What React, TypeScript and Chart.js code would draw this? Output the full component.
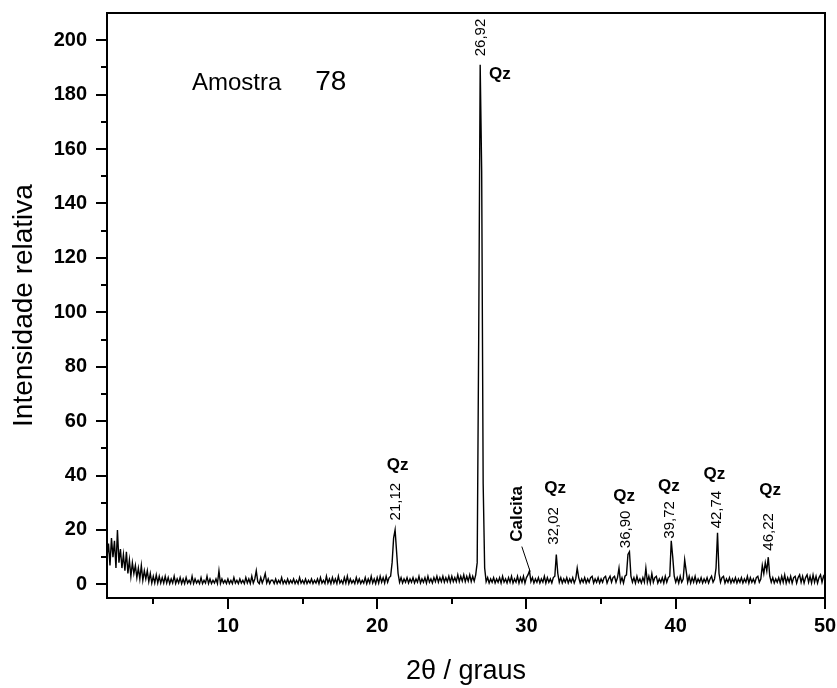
import React, { useEffect, useRef } from "react";
import { Chart, registerables } from "chart.js";

Chart.register(...registerables);

// 2θ grid: first angle and step (degrees)
const thetaStart = 1.9;
const thetaStep = 0.1;

// Relative intensity, one row per degree
const intensity: number[] = [
  10,
  15, 7, 17, 10, 16, 6, 20, 8, 13, 6,
  11, 5, 12, 4, 9, 3, 8, 4, 7, 2.5,
  6, 2, 7, 1.5, 5, 2, 5, 1, 4, 0.5,
  3, 0.5, 3.5, 0.5, 3, 0.5, 2.5, 0.5, 3, 0.5,
  2.5, 0.3, 2, 0.5, 3, 0.3, 2, 0.5, 2.5, 0.3,
  2, 0.3, 2.5, 0.5, 1.5, 0.3, 3, 0.3, 2, 0.5,
  1.5, 0.3, 2.5, 0.3, 1.5, 0.5, 3, 0.3, 2, 0.3,
  1.5, 0.5, 2, 0.3, 5, 0.3, 2, 0.5, 1.5, 0.3,
  2, 0.3, 1.5, 0.3, 2.5, 0.5, 1.5, 0.3, 2, 0.5,
  1.5, 0.3, 2.5, 0.5, 2, 0.3, 3, 0.5, 2, 5,
  1, 0.3, 2.5, 0.5, 2, 4, 0.5, 2, 0.3, 1.5,
  1.5, 0.3, 2, 0.3, 1.5, 0.5, 2.5, 0.3, 1.5, 0.3,
  2, 0.3, 1.5, 0.5, 2, 0.3, 1.5, 0.3, 2.5, 0.5,
  1.5, 0.3, 2, 0.3, 1.5, 0.5, 2, 0.3, 1.5, 0.5,
  2, 0.3, 2.5, 0.5, 1.5, 0.3, 3, 0.5, 2, 0.3,
  2.5, 0.5, 2, 0.3, 3, 0.5, 1.5, 0.3, 2.5, 0.5,
  3, 0.3, 2, 0.5, 1.5, 0.3, 2.5, 0.5, 2, 0.3,
  1.5, 0.5, 2.5, 0.3, 2, 0.5, 3, 0.5, 2, 0.3,
  2.5, 0.5, 3, 0.8, 2.5, 0.5, 3, 0.8, 2.5, 3,
  8, 17, 20, 12, 4, 0.8, 2.5, 0.5, 2, 0.8,
  2.5, 0.5, 2, 0.8, 2.5, 0.5, 2, 0.8, 3, 0.5,
  2, 0.8, 2.5, 0.5, 3, 0.8, 2, 0.5, 2.5, 1,
  3, 0.8, 2.5, 1, 3, 0.8, 2.5, 1, 3, 0.8,
  3, 1, 2.5, 1, 3.5, 1, 3, 1.2, 3.5, 1,
  3, 1.2, 3.5, 1, 3, 1.2, 3.5, 8, 90, 191,
  152, 37, 6, 1, 2.5, 0.5, 2, 0.8, 2.5, 0.5,
  2, 0.8, 2.5, 0.5, 3, 0.8, 2, 0.5, 2.5, 0.8,
  3, 0.5, 2, 0.8, 3, 0.5, 2.5, 0.8, 3, 0.5,
  2.5, 3.5, 5, 1, 2.5, 0.5, 2, 0.8, 2.5, 0.5,
  2, 0.8, 3, 0.5, 2.5, 0.8, 2, 0.5, 2.5, 3,
  11, 4, 0.8, 2.5, 0.5, 2, 0.8, 2.5, 0.5, 2,
  0.8, 2.5, 0.5, 2, 6, 2.5, 0.5, 2, 0.8, 2.5,
  0.5, 2, 0.8, 2.5, 3, 0.5, 2, 0.8, 2.5, 0.5,
  2, 0.8, 2.5, 3, 0.5, 2, 3, 0.8, 2.5, 3,
  0.8, 2.5, 6, 0.8, 2.5, 0.5, 3, 3.5, 11, 12,
  3, 0.8, 2.5, 0.5, 3, 0.8, 2, 0.5, 2.5, 0.8,
  6, 0.8, 3, 0.5, 4, 0.8, 2.5, 3, 0.5, 2,
  0.8, 2.5, 0.5, 3, 0.8, 2.5, 3, 16, 10, 3,
  0.8, 2.5, 0.5, 3, 0.8, 2, 9, 5, 0.8, 3,
  0.5, 2.5, 0.8, 3, 0.5, 2, 0.8, 2.5, 0.5, 2,
  0.8, 2.5, 0.5, 2, 3, 0.8, 2, 6, 19, 4,
  0.8, 2.5, 3, 0.5, 2, 0.8, 2.5, 0.5, 2, 0.8,
  2.5, 0.5, 2, 0.8, 2.5, 0.5, 2, 0.8, 3, 0.5,
  2.5, 0.8, 2, 0.5, 2.5, 3, 0.8, 2, 7, 4,
  8, 5, 10, 3, 0.8, 2.5, 0.5, 2, 0.8, 2.5,
  0.5, 3, 0.8, 3.5, 0.5, 2.5, 0.8, 3, 0.5, 2.5,
  3, 0.5, 2.5, 3.5, 0.8, 3, 0.5, 2.5, 3.5, 0.8,
  3, 0.5, 3.5, 0.8, 3, 0.5, 2.5, 3.5, 0.8, 3,
  2,
];

// Axis ticks
const xTickValues = [5, 10, 15, 20, 25, 30, 35, 40, 45, 50];
const xTickLabels = ["", "10", "", "20", "", "30", "", "40", "", "50"];
const yTickValues = [0, 10, 20, 30, 40, 50, 60, 70, 80, 90, 100, 110, 120, 130, 140, 150, 160, 170, 180, 190, 200];
const yTickLabels = ["0", "", "20", "", "40", "", "60", "", "80", "", "100", "", "120", "", "140", "", "160", "", "180", "", "200"];

// Peak annotations (2θ value texts, rotated) and phase labels
const peakTexts = ["21,12", "26,92", "32,02", "36,90", "39,72", "42,74", "46,22"];
const peakTextX = [21.24, 26.95, 31.86, 36.68, 39.63, 42.75, 46.21];
const peakTextY = [30.4, 201.0, 21.5, 20.2, 23.7, 27.5, 19.3];
const phaseTexts = ["Qz", "Qz", "Qz", "Qz", "Qz", "Qz", "Qz"];
const phaseX = [21.37, 28.22, 31.92, 36.55, 39.54, 42.59, 46.32];
const phaseY = [43.9, 187.5, 35.3, 32.5, 35.9, 40.6, 34.4];
const calciteText = "Calcita";
const calciteXY = [29.36, 25.9];
const calciteLeader = [29.69, 13.9, 30.25, 4.7];
const sampleTitle = ["Amostra", "78"];
const sampleTitleX = [7.59, 15.85];
const sampleTitleY = 181.7;

const FONT = "'Liberation Sans', Arial, sans-serif";

const overlayPlugin = {
  id: "overlay",
  afterDraw(chart: any) {
    const { ctx, chartArea } = chart;
    const { left, right, top, bottom } = chartArea;
    const xs = chart.scales.x;
    const ys = chart.scales.y;
    ctx.save();
    ctx.strokeStyle = "#000";
    ctx.fillStyle = "#000";
    ctx.lineWidth = 2;
    ctx.strokeRect(left, top, right - left, bottom - top);
    ctx.beginPath();
    xs.ticks.forEach((t: any) => {
      const px = Math.round(xs.getPixelForValue(t.value));
      const len = t.value % 10 === 0 ? 11 : 6;
      ctx.moveTo(px, bottom);
      ctx.lineTo(px, bottom + len);
    });
    ys.ticks.forEach((t: any) => {
      const py = Math.round(ys.getPixelForValue(t.value));
      const len = t.value % 20 === 0 ? 11 : 6;
      ctx.moveTo(left, py);
      ctx.lineTo(left - len, py);
    });
    ctx.stroke();

    // rotated peak positions
    ctx.font = `15px ${FONT}`;
    ctx.textAlign = "center";
    ctx.textBaseline = "middle";
    peakTexts.forEach((txt, i) => {
      const px = xs.getPixelForValue(peakTextX[i]);
      const py = ys.getPixelForValue(peakTextY[i]);
      ctx.save();
      ctx.translate(px, py);
      ctx.rotate(-Math.PI / 2);
      ctx.fillText(txt, 0, 0);
      ctx.restore();
    });

    ctx.font = `bold 17px ${FONT}`;
    phaseTexts.forEach((txt, i) => {
      ctx.fillText(txt, xs.getPixelForValue(phaseX[i]), ys.getPixelForValue(phaseY[i]));
    });

    ctx.font = `bold 17px ${FONT}`;
    ctx.save();
    ctx.translate(xs.getPixelForValue(calciteXY[0]), ys.getPixelForValue(calciteXY[1]));
    ctx.rotate(-Math.PI / 2);
    ctx.fillText(calciteText, 0, 0);
    ctx.restore();
    ctx.lineWidth = 1;
    ctx.beginPath();
    ctx.moveTo(xs.getPixelForValue(calciteLeader[0]), ys.getPixelForValue(calciteLeader[1]));
    ctx.lineTo(xs.getPixelForValue(calciteLeader[2]), ys.getPixelForValue(calciteLeader[3]));
    ctx.stroke();

    ctx.textAlign = "left";
    ctx.textBaseline = "alphabetic";
    ctx.font = `24px ${FONT}`;
    ctx.fillText(sampleTitle[0], xs.getPixelForValue(sampleTitleX[0]), ys.getPixelForValue(sampleTitleY));
    ctx.font = `28px ${FONT}`;
    ctx.fillText(sampleTitle[1], xs.getPixelForValue(sampleTitleX[1]), ys.getPixelForValue(sampleTitleY));
    ctx.restore();
  },
};

export default function App() {
  const canvasRef = useRef<HTMLCanvasElement | null>(null);

  useEffect(() => {
    const canvas = canvasRef.current;
    if (!canvas) return;
    const points = intensity.map((v, i) => ({ x: thetaStart + i * thetaStep, y: v }));
    const chart = new Chart(canvas, {
      type: "line",
      data: {
        datasets: [
          {
            data: points,
            borderColor: "#000",
            borderWidth: 1.4,
            pointRadius: 0,
            tension: 0,
            fill: false,
          },
        ],
      },
      options: {
        responsive: false,
        animation: false,
        layout: { padding: { top: 13, right: 12, left: 0, bottom: 0 } },
        plugins: { legend: { display: false }, tooltip: { enabled: false } },
        scales: {
          x: {
            type: "linear",
            min: 1.9,
            max: 50,
            grid: { display: false },
            border: { display: false },
            afterBuildTicks: (s: any) => {
              s.ticks = xTickValues.map((v) => ({ value: v }));
            },
            afterFit: (s: any) => {
              s.height = 90;
              s.paddingLeft = 0;
              s.paddingRight = 0;
            },
            ticks: {
              autoSkip: false,
              maxRotation: 0,
              padding: 8,
              color: "#000",
              font: { family: FONT, size: 20, weight: "bold" },
              callback: (v: any) => {
                const i = xTickValues.indexOf(Number(v));
                return i >= 0 ? xTickLabels[i] : "";
              },
            },
            title: {
              display: true,
              text: "2θ / graus",
              color: "#000",
              font: { family: FONT, size: 27 },
              padding: { top: 0, bottom: 0 },
            },
          },
          y: {
            min: -5,
            max: 210,
            grid: { display: false },
            border: { display: false },
            afterBuildTicks: (s: any) => {
              s.ticks = yTickValues.map((v) => ({ value: v }));
            },
            afterFit: (s: any) => {
              s.width = 107;
              s.paddingTop = 0;
              s.paddingBottom = 0;
            },
            ticks: {
              autoSkip: false,
              padding: 12,
              color: "#000",
              font: { family: FONT, size: 20, weight: "bold" },
              callback: (v: any) => {
                const i = yTickValues.indexOf(Number(v));
                return i >= 0 ? yTickLabels[i] : "";
              },
            },
            title: {
              display: true,
              text: "Intensidade relativa",
              color: "#000",
              font: { family: FONT, size: 28 },
              padding: { top: 7, bottom: 0 },
            },
          },
        },
      },
      plugins: [overlayPlugin],
    } as any);
    return () => chart.destroy();
  }, []);

  return (
    <div style={{ position: "absolute", left: 0, top: 0, width: 837, height: 688, background: "#fff" }}>
      <canvas ref={canvasRef} width={837} height={688} style={{ display: "block" }} />
    </div>
  );
}
